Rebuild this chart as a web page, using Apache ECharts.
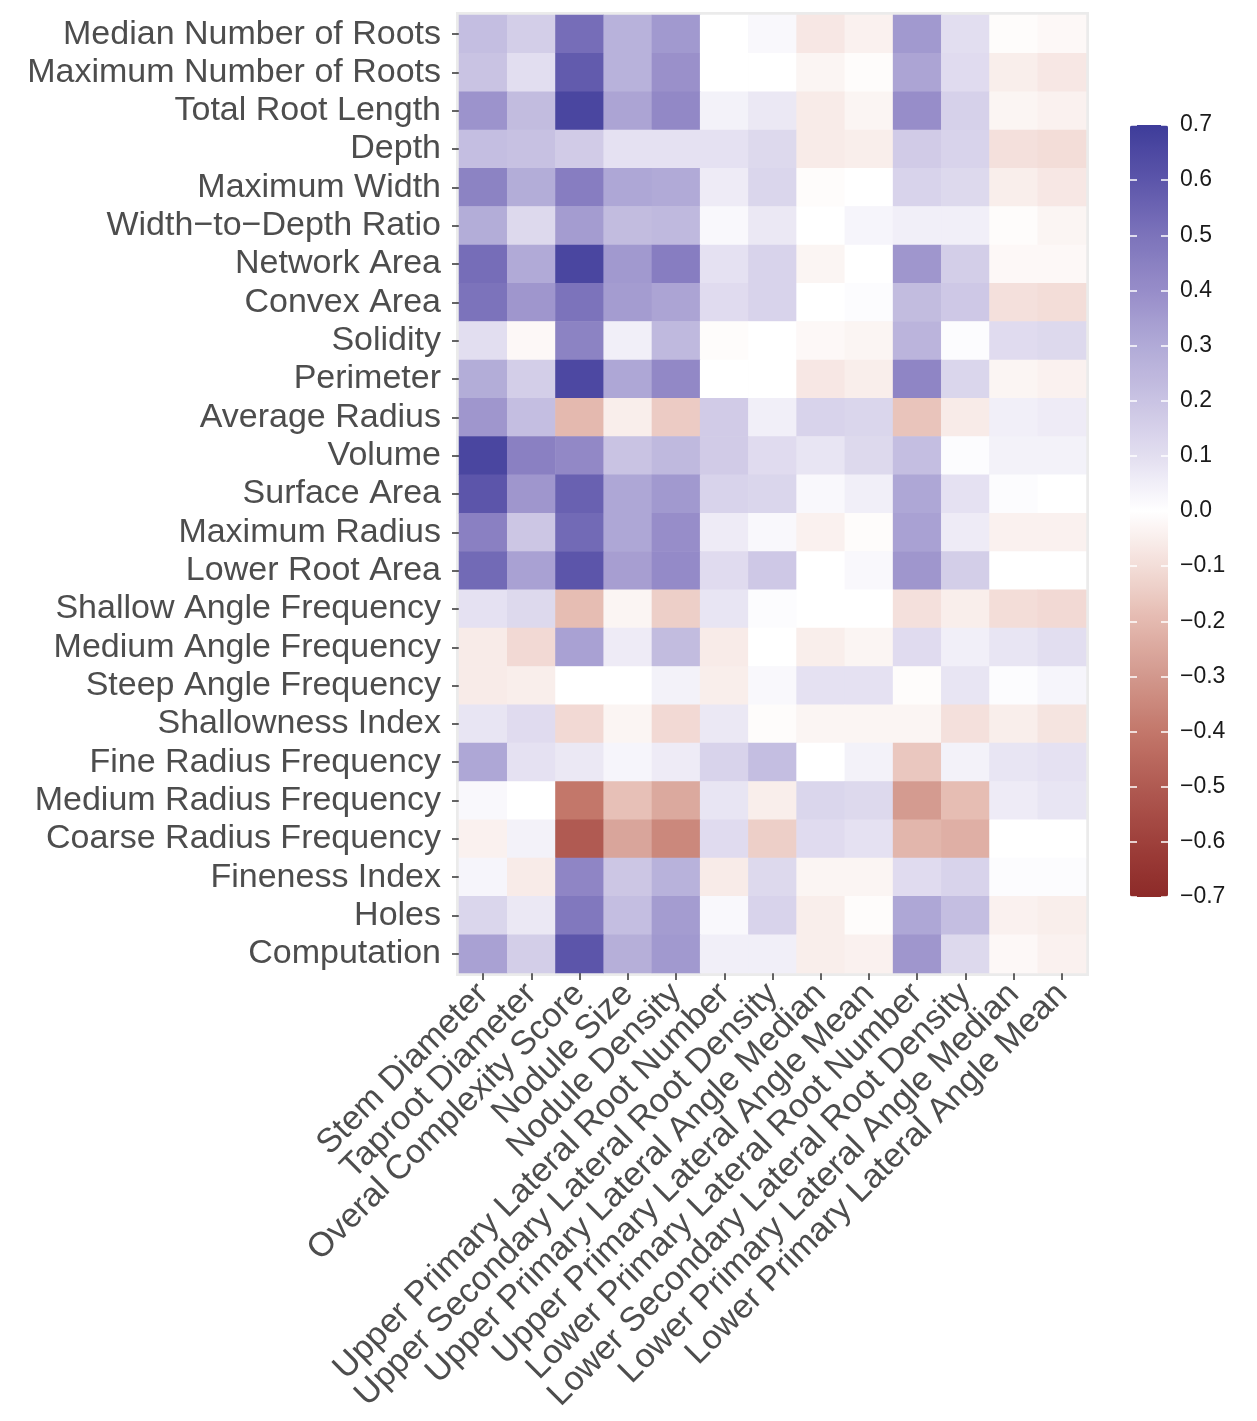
<!DOCTYPE html>
<html>
<head>
<meta charset="utf-8">
<script src="https://cdn.jsdelivr.net/npm/echarts@6/dist/echarts.min.js"></script>
<style>
  html, body { margin: 0; padding: 0; background: #ffffff; }
  #chart { width: 1257px; height: 1421px; }
</style>
</head>
<body>
<div id="chart"></div>
<script>
// Root traits (rows, top to bottom)
const rowTraits = [
  'Median Number of Roots', 'Maximum Number of Roots', 'Total Root Length', 'Depth',
  'Maximum Width', 'Width\u2212to\u2212Depth Ratio', 'Network Area', 'Convex Area', 'Solidity',
  'Perimeter', 'Average Radius', 'Volume', 'Surface Area', 'Maximum Radius', 'Lower Root Area',
  'Shallow Angle Frequency', 'Medium Angle Frequency', 'Steep Angle Frequency',
  'Shallowness Index', 'Fine Radius Frequency', 'Medium Radius Frequency',
  'Coarse Radius Frequency', 'Fineness Index', 'Holes', 'Computation'
];

// Plant traits (columns, left to right)
const colTraits = [
  'Stem Diameter', 'Taproot Diameter', 'Overal Complexity Score', 'Nodule Size',
  'Nodule Density', 'Upper Primary Lateral Root Number', 'Upper Secondary Lateral Root Density',
  'Upper Primary Lateral Angle Median', 'Upper Primary Lateral Angle Mean',
  'Lower Primary Lateral Root Number', 'Lower Secondary Lateral Root Density',
  'Lower Primary Lateral Angle Median', 'Lower Primary Lateral Angle Mean'
];

// Correlation coefficients, one array per root trait (columns in colTraits order)
const medianNumberOfRoots   = [0.22, 0.16, 0.52, 0.27, 0.36, 0.00, 0.02, -0.07, -0.04, 0.36, 0.10, -0.01, -0.02];
const maximumNumberOfRoots  = [0.20, 0.10, 0.58, 0.27, 0.39, 0.00, 0.00, -0.03, -0.01, 0.32, 0.11, -0.05, -0.07];
const totalRootLength       = [0.38, 0.23, 0.66, 0.32, 0.42, 0.04, 0.07, -0.06, -0.03, 0.40, 0.15, -0.03, -0.04];
const depth                 = [0.22, 0.21, 0.17, 0.09, 0.09, 0.09, 0.12, -0.06, -0.05, 0.17, 0.14, -0.09, -0.10];
const maximumWidth          = [0.44, 0.29, 0.46, 0.31, 0.30, 0.06, 0.13, -0.01, 0.00, 0.14, 0.12, -0.05, -0.07];
const widthToDepthRatio     = [0.29, 0.12, 0.35, 0.23, 0.24, 0.02, 0.07, 0.00, 0.03, 0.05, 0.05, -0.01, -0.03];
const networkArea           = [0.52, 0.30, 0.66, 0.36, 0.46, 0.09, 0.14, -0.03, 0.00, 0.37, 0.16, -0.02, -0.02];
const convexArea            = [0.50, 0.37, 0.50, 0.35, 0.32, 0.11, 0.14, 0.00, 0.01, 0.23, 0.18, -0.09, -0.10];
const solidity              = [0.10, -0.02, 0.44, 0.05, 0.24, -0.01, 0.00, -0.02, -0.03, 0.26, 0.01, 0.11, 0.12];
const perimeter             = [0.29, 0.16, 0.65, 0.31, 0.42, 0.00, 0.00, -0.07, -0.05, 0.43, 0.13, -0.03, -0.04];
const averageRadius         = [0.37, 0.22, -0.20, -0.05, -0.15, 0.17, 0.05, 0.14, 0.13, -0.17, -0.06, 0.05, 0.06];
const volume                = [0.66, 0.45, 0.42, 0.20, 0.24, 0.17, 0.11, 0.08, 0.12, 0.22, 0.01, 0.04, 0.04];
const surfaceArea           = [0.60, 0.37, 0.56, 0.31, 0.36, 0.14, 0.13, 0.02, 0.05, 0.31, 0.09, 0.01, 0.00];
const maximumRadius         = [0.45, 0.19, 0.53, 0.31, 0.40, 0.06, 0.02, -0.04, -0.01, 0.33, 0.06, -0.04, -0.04];
const lowerRootArea         = [0.53, 0.33, 0.60, 0.34, 0.41, 0.11, 0.18, 0.00, 0.02, 0.37, 0.16, 0.00, 0.00];
const shallowAngleFreq      = [0.09, 0.12, -0.19, -0.03, -0.14, 0.08, 0.01, 0.00, 0.00, -0.09, -0.05, -0.10, -0.11];
const mediumAngleFreq       = [-0.06, -0.11, 0.33, 0.06, 0.23, -0.06, 0.00, -0.05, -0.03, 0.11, 0.05, 0.08, 0.10];
const steepAngleFreq        = [-0.06, -0.05, 0.00, 0.00, 0.04, -0.05, 0.02, 0.09, 0.09, -0.01, 0.08, 0.01, 0.03];
const shallownessIndex      = [0.08, 0.11, -0.11, -0.03, -0.11, 0.07, -0.01, -0.03, -0.03, -0.03, -0.09, -0.05, -0.08];
const fineRadiusFreq        = [0.31, 0.09, 0.07, 0.03, 0.06, 0.14, 0.22, 0.00, 0.04, -0.16, 0.04, 0.08, 0.09];
const mediumRadiusFreq      = [0.02, 0.00, -0.40, -0.18, -0.25, 0.08, -0.05, 0.13, 0.12, -0.29, -0.19, 0.06, 0.08];
const coarseRadiusFreq      = [-0.04, 0.04, -0.50, -0.26, -0.35, 0.11, -0.14, 0.11, 0.09, -0.21, -0.23, 0.00, 0.00];
const finenessIndex         = [0.03, -0.06, 0.43, 0.19, 0.27, -0.06, 0.12, -0.03, -0.03, 0.11, 0.14, 0.01, 0.01];
const holes                 = [0.13, 0.07, 0.48, 0.22, 0.35, 0.02, 0.14, -0.05, -0.01, 0.31, 0.22, -0.04, -0.05];
const computation           = [0.33, 0.16, 0.60, 0.28, 0.36, 0.05, 0.05, -0.05, -0.04, 0.37, 0.12, -0.02, -0.04];

const rowValues = [
  medianNumberOfRoots, maximumNumberOfRoots, totalRootLength, depth, maximumWidth,
  widthToDepthRatio, networkArea, convexArea, solidity, perimeter, averageRadius, volume,
  surfaceArea, maximumRadius, lowerRootArea, shallowAngleFreq, mediumAngleFreq,
  steepAngleFreq, shallownessIndex, fineRadiusFreq, mediumRadiusFreq, coarseRadiusFreq,
  finenessIndex, holes, computation
];

// Diverging palette from -0.7 to 0.7 in steps of 0.1
const paletteStops = [
  '#8C2A28', '#9E403B', '#B05A52', '#C3776A', '#D2988D', '#E4B9AF', '#F3DDD8',
  '#FFFFFF',
  '#E2DEF0', '#C9C3E3', '#B1AAD7', '#978DC9', '#7C73BB', '#5C55AA', '#3E3C9A'
];

const cells = [];
rowValues.forEach((vals, r) => {
  vals.forEach((v, c) => cells.push([c, r, v]));
});

const FONT = '"Liberation Sans", Arial, Helvetica, sans-serif';
const fmtLegend = v => {
  const s = Math.abs(v).toFixed(1);
  return v < -1e-9 ? '\u2212' + s : s;
};

const chart = echarts.init(document.getElementById('chart'), null, { renderer: 'canvas' });
chart.setOption({
  backgroundColor: '#ffffff',
  animation: false,
  textStyle: { fontFamily: FONT },
  grid: [
    {
      left: 459, top: 15, width: 627, height: 958,
      show: true, backgroundColor: '#EBEBEB', borderColor: '#EBEBEB', borderWidth: 6,
      containLabel: false
    },
    { left: 1130, top: 125, width: 38, height: 772, show: false }
  ],
  xAxis: [
    {
      type: 'category', gridIndex: 0, data: colTraits,
      axisLine: { show: false },
      axisTick: { show: true, alignWithLabel: true, length: 7, lineStyle: { color: '#333333', width: 1.5 } },
      axisLabel: { rotate: 45, interval: 0, fontSize: 34, color: '#4D4D4D', margin: 16, fontFamily: FONT },
      splitLine: { show: false }
    },
    { type: 'value', gridIndex: 1, show: false, min: 0, max: 1 }
  ],
  yAxis: [
    {
      type: 'category', gridIndex: 0, data: rowTraits, inverse: true,
      axisLine: { show: false },
      axisTick: { show: true, alignWithLabel: true, length: 7, lineStyle: { color: '#333333', width: 1.5 } },
      axisLabel: { interval: 0, fontSize: 34, color: '#4D4D4D', margin: 18, fontFamily: FONT },
      splitLine: { show: false }
    },
    {
      type: 'value', gridIndex: 1, position: 'left', min: -0.7, max: 0.7, interval: 0.1, z: 10,
      axisLine: { show: false },
      axisTick: { show: true, inside: true, length: 7, lineStyle: { color: '#FFFFFF', width: 1.5 } },
      axisLabel: { show: false },
      splitLine: { show: false }
    },
    {
      type: 'value', gridIndex: 1, position: 'right', min: -0.7, max: 0.7, interval: 0.1, z: 10,
      axisLine: { show: false },
      axisTick: { show: true, inside: true, length: 7, lineStyle: { color: '#FFFFFF', width: 1.5 } },
      axisLabel: { show: true, fontSize: 23, color: '#1A1A1A', margin: 12, formatter: fmtLegend, fontFamily: FONT },
      splitLine: { show: false }
    }
  ],
  visualMap: {
    type: 'continuous',
    min: -0.7, max: 0.7,
    dimension: 2, seriesIndex: 0,
    calculable: false, hoverLink: false,
    orient: 'vertical',
    left: 1130, top: 125,
    itemWidth: 38, itemHeight: 772,
    padding: 0,
    text: null,
    showLabel: false,
    inRange: { color: paletteStops }
  },
  series: [
    {
      type: 'heatmap',
      xAxisIndex: 0, yAxisIndex: 0,
      data: cells,
      itemStyle: { borderWidth: 0 },
      emphasis: { disabled: true },
      progressive: 0
    }
  ]
});
</script>
</body>
</html>
